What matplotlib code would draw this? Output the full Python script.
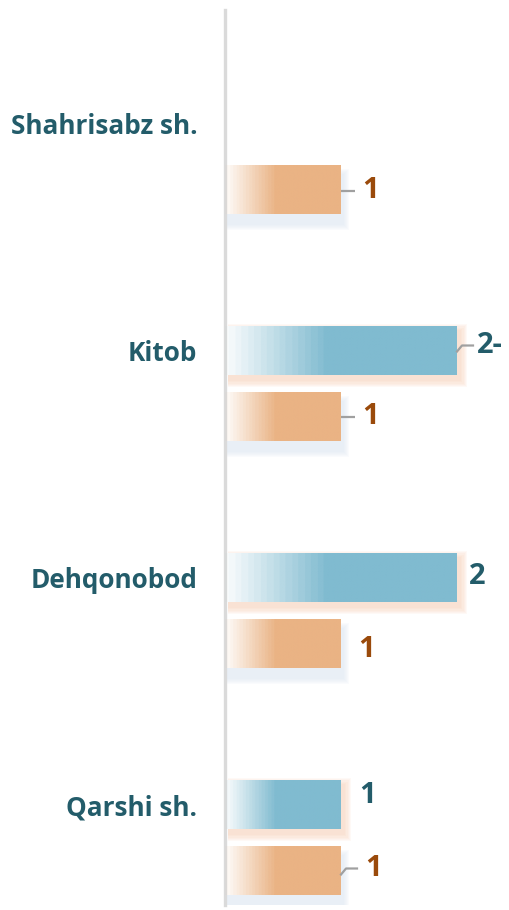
import numpy as np
import matplotlib
matplotlib.use("Agg")
import matplotlib.pyplot as plt
from matplotlib.patches import Rectangle

categories = ["Shahrisabz sh.", "Kitob", "Dehqonobod", "Qarshi sh."]
series_blue = [0, 2, 2, 1]
series_orange = [1, 1, 1, 1]
blue_labels = ["", "2-", "2", "1"]
orange_labels = ["1", "1", "1", "1"]

# label placement styles (pixel offsets: dx from bar end, dy, leader?)
blue_label_style = [None, (20, -5, "bent"), (12, -1, None), (18, -9, None)]
orange_label_style = [(21, 1, "straight"), (21, 0, "straight"), (17, 6, None), (24, -2, "bent")]

W, H = 509, 910
fig = plt.figure(figsize=(W / 100, H / 100), dpi=100)
ax_left = 225 / W
ax_bottom = (H - 905) / H
ax_h = 895 / H
ax = fig.add_axes([ax_left, ax_bottom, 1 - ax_left, ax_h])

PX_X = 1 / 116.0  # data per pixel (x)
PX_Y = 1 / 227.0  # data per pixel (y)
xmax = (W - 225) * PX_X
top = (10 - 156.5) / 227
bottom = (905 - 156.5) / 227
ax.set_xlim(0, xmax)
ax.set_ylim(bottom, top)

BLUE = np.array([128, 187, 208]) / 255
ORANGE = np.array([234, 179, 132]) / 255
BLUE_TXT = "#235C6A"
ORANGE_TXT = "#9A4A0B"

off = 33 * PX_Y
bh = 49 * PX_Y


def grad_bar(y, v, color):
    if v <= 0:
        return
    ax.add_patch(Rectangle((0, y - bh / 2), v, bh, facecolor="white",
                           edgecolor="none", zorder=2.5))
    n = 200
    t = np.linspace(0, 1, n)
    a = np.clip(t / 0.44, 0, 1)
    a = np.round(a * 16) / 16
    a = 0.03 + 0.97 * a
    img = np.ones((1, n, 4))
    img[0, :, :3] = color
    img[0, :, 3] = a
    ax.imshow(img, extent=(0, v, y + bh / 2, y - bh / 2), aspect="auto",
              interpolation="bilinear", zorder=3)


def shadow(y, v, color, dx, dy, spread, alpha):
    if v <= 0:
        return
    for k in range(6):
        p = spread * (k + 1) / 6
        r = Rectangle((0 + dx * PX_X, y - bh / 2 + dy * PX_Y - p * PX_Y),
                      v + (p) * PX_X, bh + 2 * p * PX_Y,
                      facecolor=color, edgecolor="none", alpha=alpha, zorder=2)
        ax.add_patch(r)


for i, cat in enumerate(categories):
    yb = i - off
    yo = i + off
    vb = series_blue[i]
    vo = series_orange[i]
    shadow(yb, vb, "#F6C7A8", 3, 5, 7, 0.10)
    shadow(yo, vo, "#DCE6F2", 2, 10, 6, 0.13)
    grad_bar(yb, vb, BLUE)
    grad_bar(yo, vo, ORANGE)


def label(y, v, text, style, color):
    if style is None or not text:
        return
    dx, dy, leader = style
    xe = v
    tx = xe + dx * PX_X
    ty = y + dy * PX_Y
    if leader == "straight":
        ax.plot([xe, xe + 14 * PX_X], [ty, ty], color="#A0A0A0", lw=1.6, zorder=4,
                solid_capstyle="butt")
    elif leader == "bent":
        ax.plot([xe, xe + 5 * PX_X, xe + 16 * PX_X],
                [y + (dy + 6) * PX_Y, ty, ty],
                color="#A0A0A0", lw=1.6, zorder=4)
    ax.text(tx, ty, text, color=color, fontsize=21, fontweight="bold",
            family=["Open Sans", "DejaVu Sans"], ha="left", va="center", zorder=5)


for i in range(len(categories)):
    label(i - off, series_blue[i], blue_labels[i], blue_label_style[i], BLUE_TXT)
    label(i + off, series_orange[i], orange_labels[i], orange_label_style[i], ORANGE_TXT)

ax.set_yticks([i - off for i in range(len(categories))])
ax.set_yticklabels(categories, fontsize=18.8, fontweight="bold", color=BLUE_TXT,
                   family=["Open Sans", "DejaVu Sans"])
ax.tick_params(axis="y", length=0, pad=20)
ax.set_xticks([])
for s in ["top", "right", "bottom"]:
    ax.spines[s].set_visible(False)
ax.spines["left"].set_color("#DADADA")
ax.spines["left"].set_linewidth(2.4)
ax.patch.set_alpha(0)

fig.savefig("out.png", dpi=100)
